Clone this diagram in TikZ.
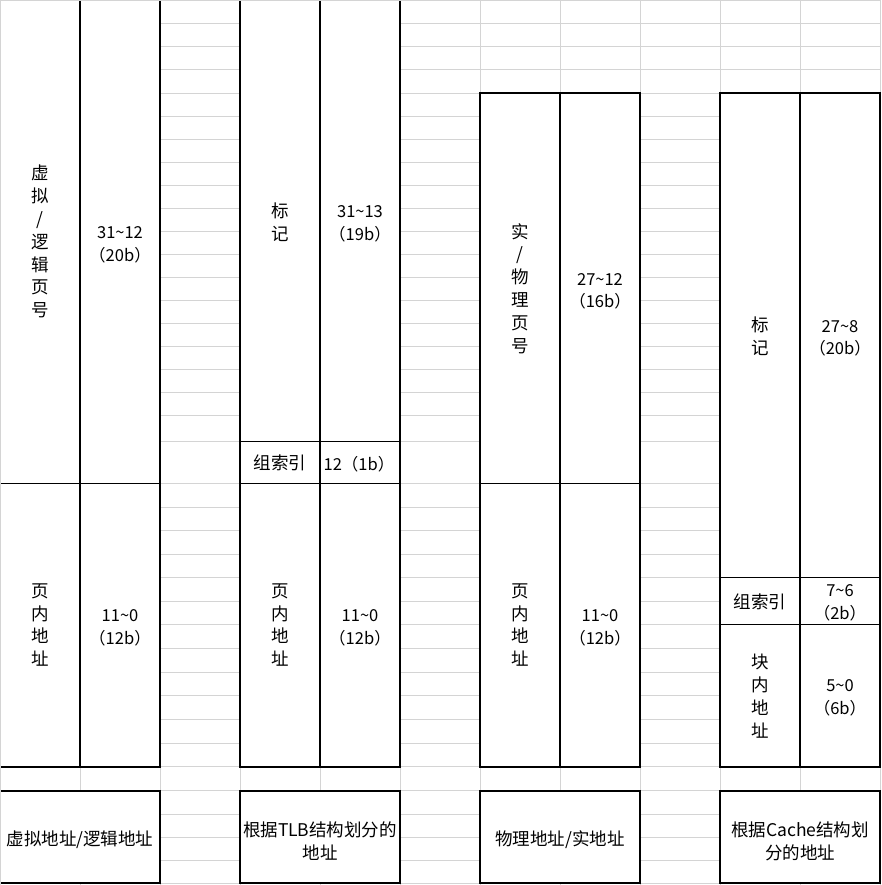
\documentclass[tikz,border=0pt]{standalone}
\usepackage{fontspec}
\setmainfont{Noto Sans CJK SC}
\tikzstyle{gridline} = [draw=black!17, line width=1pt]
\tikzstyle{blockline} = [draw, line width=2pt, line cap=rect]
\tikzstyle{divider} = [draw, line width=1.2pt]
\tikzstyle{celltext} = [align=center, inner sep=0pt, font=\fontsize{17.5}{22.8}\selectfont]
\tikzstyle{bittext} = [align=center, inner sep=0pt, font=\fontsize{16.5}{22.8}\selectfont]
\newcommand\tld{\textasciitilde}

\begin{document}
\begin{tikzpicture}[x=1pt, y=-1pt]
    \useasboundingbox (0,0) rectangle (881,885);
    \fill[white] (0,0) rectangle (881,885);
    % sheet grid
    \foreach \y in {23.3,46.3,69.3,93.3,116.3,139.3,162.3,185.3,208.3,231.3,254.3,277.3,300.3,323.3,346.3,369.3,392.3,415.3,441.3,483.3,507,530.3,554,577.3,601,624.3,648,672,695.7,719.3,743.3,766.7,790.7,814,837.3,860.3,883.3}
        \draw[gridline] (0,\y) -- (881,\y);
    \foreach \x in {80,160,...,880}
        \draw[gridline] (\x,0) -- (\x,885);
    % blocks
    \fill[white] (0,0) rectangle (160,766.7);
    \fill[white] (240,0) rectangle (400,766.7);
    \fill[white] (480,93.3) rectangle (640,766.7);
    \fill[white] (720,93.3) rectangle (880,766.7);
    \draw[blockline] (80,0) -- (80,766.7);
    \draw[blockline] (160,0) -- (160,766.7) -- (0,766.7);
    \draw[blockline] (240,0) -- (240,766.7) -- (400,766.7) -- (400,0);
    \draw[blockline] (320,0) -- (320,766.7);
    \draw[blockline] (480,93.3) rectangle (640,766.7);
    \draw[blockline] (560,93.3) -- (560,766.7);
    \draw[blockline] (720,93.3) rectangle (880,766.7);
    \draw[blockline] (800,93.3) -- (800,766.7);
    \draw[divider] (0,483.3) -- (160,483.3);
    \draw[divider] (240,441.3) -- (400,441.3);
    \draw[divider] (240,483.3) -- (400,483.3);
    \draw[divider] (480,483.3) -- (640,483.3);
    \draw[divider] (720,577.3) -- (880,577.3);
    \draw[divider] (720,624.3) -- (880,624.3);
    % caption boxes
    \fill[white] (0,790.7) rectangle (160,883.3);
    \draw[blockline] (0,790.7) -- (160,790.7) -- (160,883.3) -- (0,883.3);
    \draw[blockline, fill=white] (240,790.7) rectangle (400,883.3);
    \draw[blockline, fill=white] (480,790.7) rectangle (640,883.3);
    \draw[blockline, fill=white] (720,790.7) rectangle (880,883.3);
    \draw[gridline] (0.5,885) -- (0.5,0.5) -- (881,0.5);

    % virtual address
    \node[celltext] (vpnName) at (40,241.6) {虚\\拟\\/\\逻\\辑\\页\\号};
    \node[bittext] (vpnBits) at (120,244.6) {31\tld12\\（20b）};
    \node[celltext] (voffName) at (40,625) {页\\内\\地\\址};
    \node[bittext] (voffBits) at (120,628) {11\tld0\\（12b）};
    % TLB split
    \node[celltext] (tlbTagName) at (280,222) {标\\记};
    \node[bittext] (tlbTagBits) at (360,223.6) {31\tld13\\（19b）};
    \node[celltext] (tlbIdxName) at (280,463) {组索引};
    \node[bittext] (tlbIdxBits) at (359,464) {12（1b）};
    \node[celltext] (tlbOffName) at (280,625) {页\\内\\地\\址};
    \node[bittext] (tlbOffBits) at (360,628) {11\tld0\\（12b）};
    % physical address
    \node[celltext] (ppnName) at (520,288.3) {实\\/\\物\\理\\页\\号};
    \node[bittext] (ppnBits) at (600,291.3) {27\tld12\\（16b）};
    \node[celltext] (poffName) at (520,625) {页\\内\\地\\址};
    \node[bittext] (poffBits) at (600,628) {11\tld0\\（12b）};
    % cache split
    \node[celltext] (tagName) at (760,336.5) {标\\记};
    \node[bittext] (tagBits) at (840,338.3) {27\tld8\\（20b）};
    \node[celltext] (idxName) at (760,601.5) {组索引};
    \node[bittext] (idxBits) at (840,603) {7\tld6\\（2b）};
    \node[celltext] (blkName) at (760,696) {块\\内\\地\\址};
    \node[bittext] (blkBits) at (840,698) {5\tld0\\（6b）};
    % captions
    \node[celltext] (vaddr) at (80,840) {虚拟地址/逻辑地址};
    \node[celltext] (tlbaddr) at (320,841) {根据TLB结构划分的\\地址};
    \node[celltext] (paddr) at (560,840) {物理地址/实地址};
    \node[celltext] (cacheaddr) at (800,841) {根据Cache结构划\\分的地址};
\end{tikzpicture}
\end{document}
